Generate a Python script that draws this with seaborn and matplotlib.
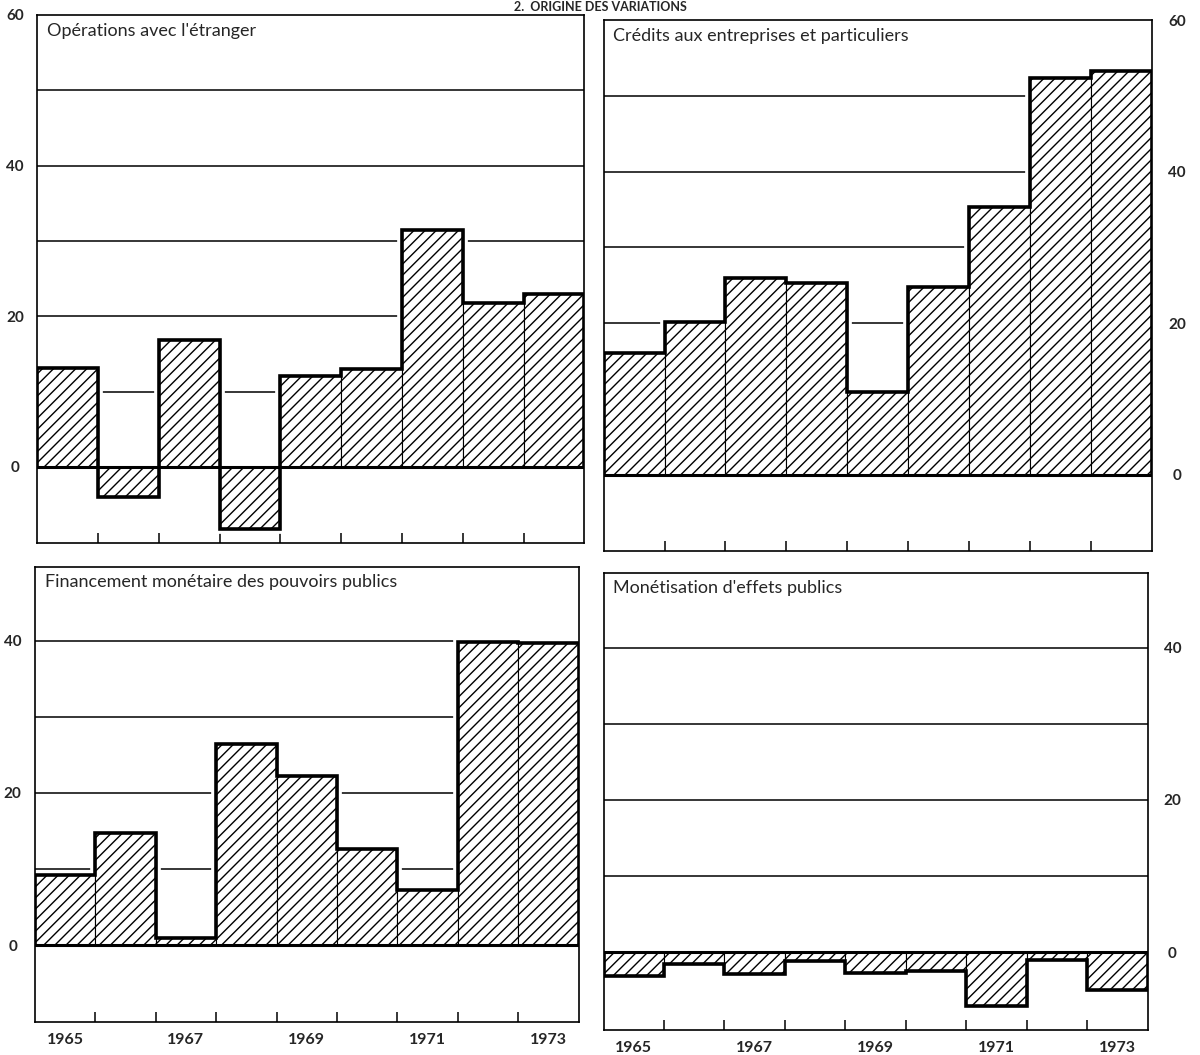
import numpy as np
import pandas as pd

import matplotlib
matplotlib.use('Agg')
import matplotlib.pyplot as plt
import seaborn as sns

# Data (milliards, variations annuelles)
years = [1965, 1966, 1967, 1968, 1969, 1970, 1971, 1972, 1973]
operations = [13.2, -4.0, 16.9, -8.3, 12.1, 13.0, 31.5, 21.8, 22.9]
credits = [16.0, 20.2, 25.9, 25.3, 10.9, 24.7, 35.3, 52.3, 53.3]
financement = [9.2, 14.7, 1.0, 26.4, 22.2, 12.6, 7.3, 39.8, 39.7]
monetisation = [-3.1, -1.6, -2.8, -1.2, -2.7, -2.4, -7.1, -1.0, -5.0]

titles = ["Opérations avec l'étranger",
          "Crédits aux entreprises et particuliers",
          "Financement monétaire des pouvoirs publics",
          "Monétisation d'effets publics"]
year_labels = ["1965", "1967", "1969", "1971", "1973"]

sns.set_style('white')
plt.rcParams['font.family'] = ['Lato', 'DejaVu Sans']
plt.rcParams['hatch.linewidth'] = 1.0


def draw_panel(ax, values, title, ylim, grid_max, label_max, side, show_years):
    df = pd.DataFrame({'annee': years, 'valeur': values})
    n = len(values)
    edges = np.arange(n + 1) - 0.5

    # horizontal rules behind the bars
    for g in range(10, grid_max + 1, 10):
        ax.axhline(g, color='black', lw=1.1, zorder=1)

    # white halo so rules stop short of the bars
    sns.barplot(data=df, x='annee', y='valeur', width=1, color='white',
                edgecolor='white', linewidth=7, errorbar=None, zorder=2, ax=ax)
    sns.barplot(data=df, x='annee', y='valeur', width=1, color='white',
                edgecolor='black', linewidth=0.8, hatch='///', errorbar=None,
                zorder=3, ax=ax)
    # thick outline of the bar envelope
    ax.stairs(values, edges, baseline=0, color='black', linewidth=2.6,
              zorder=4, joinstyle='miter')
    ax.axhline(0, color='black', lw=2.2, zorder=5)

    ax.set_xlim(edges[0], edges[-1])
    ax.set_ylim(*ylim)
    ax.set_xlabel('')
    ax.set_ylabel('')

    for sp in ax.spines.values():
        sp.set_visible(True)
        sp.set_color('black')
        sp.set_linewidth(1.2)

    # y labels
    ax.set_yticks(range(0, label_max + 1, 20))
    ax.set_yticklabels([str(v) for v in range(0, label_max + 1, 20)],
                       fontweight='bold', fontsize=11, ha='center')
    if side == 'right':
        ax.yaxis.tick_right()
        ax.tick_params(axis='y', length=0, pad=18)
    else:
        ax.tick_params(axis='y', length=0, pad=16)

    # year boundary ticks
    ax.set_xticks(edges[1:-1])
    ax.set_xticklabels([])
    ax.tick_params(axis='x', which='major', direction='in', length=7,
                   width=1.1, color='black', bottom=True)
    if show_years:
        ax.set_xticks(np.arange(0, n, 2), minor=True)
        ax.set_xticklabels(year_labels, minor=True, fontweight='bold', fontsize=11.5)
        ax.tick_params(axis='x', which='minor', length=0, pad=8)

    ax.text(0.018, 0.985, title, transform=ax.transAxes, ha='left', va='top',
            fontsize=13, zorder=6)


fig = plt.figure(figsize=(12, 10.55), dpi=100)

ax_tl = fig.add_axes([0.031, 0.4853, 0.456, 0.5005])
ax_tr = fig.add_axes([0.503, 0.4777, 0.457, 0.5033])
ax_bl = fig.add_axes([0.029, 0.0313, 0.4533, 0.4313])
ax_br = fig.add_axes([0.503, 0.0237, 0.4533, 0.4332])

draw_panel(ax_tl, operations, titles[0], (-10.1, 60), 50, 60, 'left', False)
draw_panel(ax_tr, credits, titles[1], (-10.1, 60), 50, 60, 'right', False)
draw_panel(ax_bl, financement, titles[2], (-10.1, 49.7), 40, 40, 'left', True)
draw_panel(ax_br, monetisation, titles[3], (-10.2, 49.8), 40, 40, 'right', True)

fig.text(0.5, 0.9995, "2.  ORIGINE DES VARIATIONS", ha='center', va='top',
         fontsize=9, fontweight='bold')

fig.savefig('out.png', dpi=100)
plt.close(fig)
